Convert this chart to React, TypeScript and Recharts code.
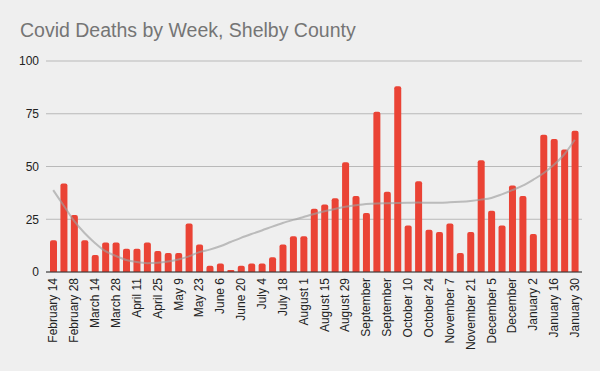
import React from "react";
import { ComposedChart, Bar, Line, XAxis, YAxis, CartesianGrid } from "recharts";

const weeks = [
  "February 14", "February 21", "February 28", "March 7", "March 14", "March 21", "March 28",
  "April 4", "April 11", "April 18", "April 25", "May 2", "May 9", "May 16", "May 23", "May 30",
  "June 6", "June 13", "June 20", "June 27", "July 4", "July 11", "July 18", "July 25",
  "August 1", "August 8", "August 15", "August 22", "August 29", "September 5", "September 12",
  "September 19", "September 26", "October 3", "October 10", "October 17", "October 24",
  "October 31", "November 7", "November 14", "November 21", "November 28", "December 5",
  "December 12", "December 19", "December 26", "January 2", "January 9", "January 16",
  "January 23", "January 30",
];

const deaths = [
  15, 42, 27, 15, 8, 14, 14, 11, 11, 14, 10, 9, 9, 23, 13, 3, 4, 1, 3, 4, 4, 7, 13, 17, 17,
  30, 32, 35, 52, 36, 28, 76, 38, 88, 22, 43, 20, 19, 23, 9, 19, 53, 29, 22, 41, 36, 18, 65,
  63, 58, 67,
];

const trend = [
  38.8, 31.5, 24.2, 18.5, 13.8, 9.9, 7.6, 5.7, 4.7, 4.2, 4.4, 5.0, 5.9, 7.4, 9.4, 10.6, 12.2,
  14.2, 16.2, 18.0, 19.7, 21.5, 23.2, 24.7, 26.1, 27.5, 28.8, 29.9, 30.9, 31.6, 32.2, 32.5,
  32.6, 32.7, 32.8, 32.9, 32.8, 32.8, 33.0, 33.3, 33.7, 34.3, 35.1, 36.8, 38.8, 40.9, 43.7,
  46.8, 50.8, 55.8, 62.7,
];

// labels too long for the axis are shown with the month only, as in the reference
const truncatedLabels = ["September 12", "September 26", "December 19"];

const yTicks = [0, 25, 50, 75, 100];

const data = weeks.map((w, i) => ({ week: w, deaths: deaths[i], trend: trend[i] }));

const FONT = '"Liberation Sans", Arial, sans-serif';

const XTick = (props: any) => {
  const { x, y, payload } = props;
  const v: string = payload.value;
  const label = truncatedLabels.includes(v) ? v.split(" ")[0] : v;
  return (
    <text
      x={x}
      y={y}
      transform={`rotate(-90, ${x}, ${y})`}
      textAnchor="end"
      dy="0.35em"
      fontSize={12}
      fontFamily={FONT}
      fill="#222"
    >
      {label}
    </text>
  );
};

export default function App() {
  return (
    <div
      style={{
        position: "absolute",
        left: 0,
        top: 0,
        width: 600,
        height: 371,
        background: "#efefef",
      }}
    >
      <div
        style={{
          position: "absolute",
          left: 20,
          top: 20,
          fontFamily: FONT,
          fontSize: 19.5,
          lineHeight: "20px",
          color: "#757575",
          whiteSpace: "nowrap",
        }}
      >
        Covid Deaths by Week, Shelby County
      </div>
      <ComposedChart
        width={600}
        height={371}
        data={data}
        margin={{ top: 61, right: 18, bottom: 0, left: 0 }}
      >
        <CartesianGrid vertical={false} stroke="#b9b9b9" />
        <XAxis
          dataKey="week"
          interval={1}
          height={99}
          tickLine={false}
          tickMargin={0}
          tick={<XTick />}
          axisLine={{ stroke: "#333" }}
          padding={{ left: 2, right: 2 }}
        />
        <YAxis
          domain={[0, 100]}
          ticks={yTicks}
          width={46}
          axisLine={false}
          tickLine={false}
          tickMargin={1}
          tick={{ fontSize: 12, fontFamily: FONT, fill: "#222" }}
        />
        <Bar
          dataKey="deaths"
          fill="#ea4335"
          barSize={7}
          radius={[2, 2, 0, 0]}
          isAnimationActive={false}
        />
        <Line
          dataKey="trend"
          type="monotone"
          stroke="#9e9e9e"
          strokeOpacity={0.65}
          strokeWidth={2}
          dot={false}
          activeDot={false}
          isAnimationActive={false}
        />
      </ComposedChart>
    </div>
  );
}
